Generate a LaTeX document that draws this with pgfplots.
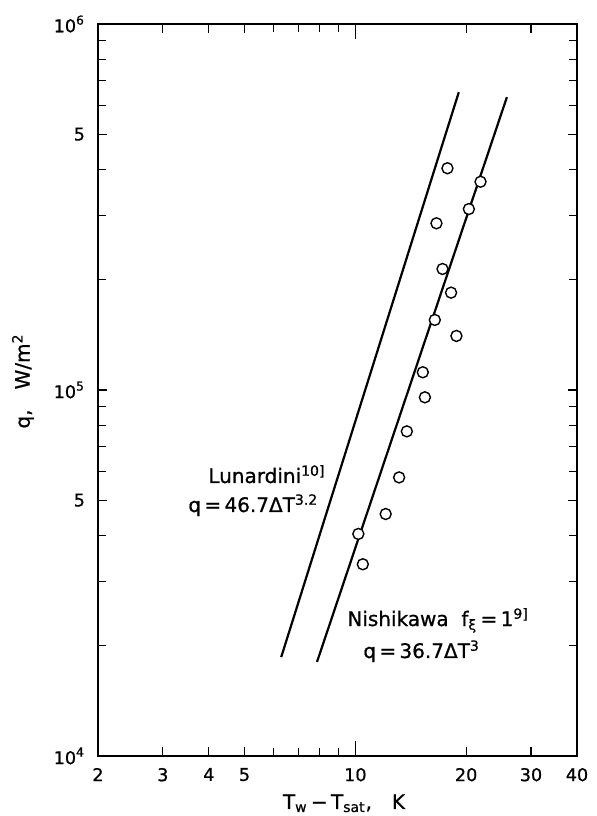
\documentclass[border=0pt]{standalone}
\usepackage{fontspec}
\setmainfont{DejaVu Sans}[FakeBold=0.8]
\usepackage{pgfplots}
\pgfplotsset{compat=1.18}
\begin{document}
\begin{tikzpicture}
\path[use as bounding box] (-49pt,-30pt) rectangle (249.5pt,378pt);
\begin{axis}[
  at={(0,0)}, anchor=south west,
  scale only axis, width=239.5pt, height=366pt,
  xmode=log, ymode=log,
  xmin=2, xmax=40, ymin=1e4, ymax=1e6,
  axis line style={line width=1pt},
  xtick={2,3,4,5,10,20,30,40},
  xticklabels={2,3,4,5,10,20,30,40},
  minor xtick={6,7,8,9},
  extra x ticks={10},
  extra x tick labels={},
  extra x tick style={major tick length=7.5pt},
  ytick={1e4,5e4,1e5,5e5,1e6},
  yticklabels={10\textsuperscript{4},5,10\textsuperscript{5},5,10\textsuperscript{6}},
  minor ytick={2e4,3e4,4e4,6e4,7e4,8e4,9e4,2e5,3e5,4e5,6e5,7e5,8e5,9e5},
  tick align=inside,
  major tick length=4.5pt, minor tick length=4pt,
  tick style={line width=0.6pt, black},
  ticklabel style={font=\fontsize{8.8}{10}\selectfont},
  xticklabel style={yshift=-2.5pt},
  yticklabel style={xshift=-3pt},
]
% Lunardini correlation, q = 46.7 dT^3.2
\addplot[black, line width=1.1pt] coordinates {(6.29,18630) (19.1,651000)};
% Nishikawa correlation, q = 36.7 dT^3
\addplot[black, line width=1.1pt] coordinates {(7.87,18080) (25.8,631000)};
% measured heat flux
\addplot[only marks, mark=*, mark size=2.75pt,
  mark options={draw=black, fill=white, line width=0.7pt}] coordinates {
  (17.79,403500) (21.88,370700) (20.34,312200) (16.61,285400)
  (17.25,214100) (18.20,184500) (16.44,155400) (18.82,140500)
  (15.25,111800) (15.45,95500) (13.80,77100) (13.15,57700)
  (12.09,45830) (10.19,40430) (10.48,33410)
};
\end{axis}
\node[anchor=base west, inner sep=0, font=\fontsize{10}{12}\selectfont] at (55pt,136.5pt) {Lunardini\textsuperscript{10]}};
\node[anchor=base west, inner sep=0, font=\fontsize{10}{12}\selectfont] at (45pt,122pt) {q\,=\,46.7ΔT\textsuperscript{3.2}};
\node[anchor=base west, inner sep=0, font=\fontsize{10}{12}\selectfont] at (124.5pt,65pt) {Nishikawa\ \ f\textsubscript{ξ}\,=\,1\textsuperscript{9]}};
\node[anchor=base west, inner sep=0, font=\fontsize{10}{12}\selectfont] at (132.5pt,49pt) {q\,=\,36.7ΔT\textsuperscript{3}};
\node[anchor=base, inner sep=0, font=\fontsize{10}{12}\selectfont] at (123pt,-26.5pt) {T\textsubscript{w}\,−\,T\textsubscript{sat},\quad K};
\node[rotate=90, inner sep=0, font=\fontsize{10}{12}\selectfont] at (-37.5pt,187.5pt) {q,\quad W/m\textsuperscript{2}};
\end{tikzpicture}
\end{document}
